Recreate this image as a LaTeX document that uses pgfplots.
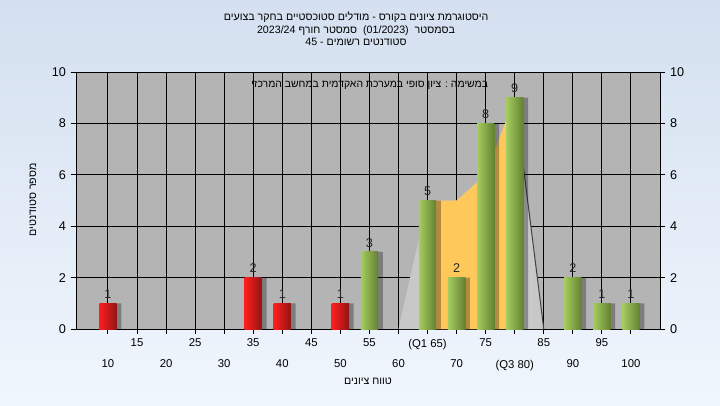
\documentclass[border=0pt]{standalone}
\usepackage{pgfplots}
\pgfplotsset{compat=1.18}
\usepackage{fontspec}
\setmainfont{Liberation Sans}
\newfontfamily\heb[Script=Hebrew]{Liberation Sans}
\TeXXeTstate=1
\definecolor{bgtop}{RGB}{212,224,240}
\definecolor{bgbot}{RGB}{240,246,253}
\definecolor{plotbg}{RGB}{180,180,180}
\definecolor{areagray}{RGB}{200,200,200}
\definecolor{areayel}{RGB}{255,200,90}
\definecolor{gL}{RGB}{165,205,95}
\definecolor{gM}{RGB}{205,232,148}
\definecolor{gR}{RGB}{100,128,50}
\definecolor{rL}{RGB}{255,30,30}
\definecolor{rM}{RGB}{255,115,115}
\definecolor{rR}{RGB}{145,20,20}

\pgfplotsset{
  lbl/.style={nodes near coords, nodes near coords style={font=\fontsize{9.5}{10}\selectfont, text=black!85, anchor=south, yshift=0pt}},
  redbar/.style={ybar, bar width=13pt, bar shift=0pt, draw=none, left color=rL, middle color=rM, right color=rR, lbl},
  greenbar/.style={ybar, bar width=13pt, bar shift=0pt, draw=none, left color=gL, middle color=gM, right color=gR, lbl},
}

\begin{document}
\begin{tikzpicture}
\shade[top color=bgtop, bottom color=bgbot] (0,0) rectangle (540pt,303.75pt);
\begin{axis}[
  at={(57pt,57pt)}, anchor=south west,
  scale only axis, width=438pt, height=192.75pt,
  xmin=-1.1, xmax=19, ymin=0, ymax=10,
  axis background/.style={fill=plotbg},
  axis line style={black, line width=0.75pt},
  ytick={0,2,...,10},
  ytick pos=left, xtick pos=bottom,
  tick align=outside, major tick length=4pt,
  tick style={black, line width=0.75pt},
  xtick={1,3,...,17},
  xticklabels={15,25,35,45,55,(Q1 65),75,85,95},
  extra x ticks={0,2,...,18},
  extra x tick labels={10,20,30,40,50,60,70,(Q3 80),90,100},
  extra x tick style={xmajorgrids=true, x tick label style={yshift=-15.75pt}},
  xmajorgrids=true, ymajorgrids=true,
  major grid style={black, line width=0.75pt},
  x tick label style={font=\fontsize{8.5}{9}\selectfont, text=black},
  y tick label style={font=\fontsize{9.5}{10}\selectfont, text=black},
  /pgf/number format/assume math mode=true,
  clip=true,
]
% areas (index 10 = grade 60, 11 = 65 (Q1), 14 = 80 (Q3), 15 = 85)
\addplot[fill=areagray, draw=none] coordinates {(10,0)(11,5)(12,5)(13,6)(14,9)(15,0)} \closedcycle;
\addplot[fill=areayel, draw=none] coordinates {(11,5)(12,5)(13,6)(14,9)} \closedcycle;
\addplot[draw=black!75, line width=0.75pt] coordinates {(14,9)(15,0)};
% shadows
\addplot[ybar, bar width=13pt, bar shift=3.5pt, fill=black, fill opacity=0.3, draw=none]
  coordinates {(0,1)(5,2)(6,1)(8,1)(9,3)(11,5)(12,2)(13,8)(14,9)(16,2)(17,1)(18,1)};
% bars: grade index, count
\addplot[redbar] coordinates {(0,1)};
\addplot[redbar] coordinates {(5,2)};
\addplot[redbar] coordinates {(6,1)};
\addplot[redbar] coordinates {(8,1)};
\addplot[greenbar] coordinates {(9,3)};
\addplot[greenbar] coordinates {(11,5)};
\addplot[greenbar] coordinates {(12,2)};
\addplot[greenbar] coordinates {(13,8)};
\addplot[greenbar] coordinates {(14,9)};
\addplot[greenbar] coordinates {(16,2)};
\addplot[greenbar] coordinates {(17,1)};
\addplot[greenbar] coordinates {(18,1)};
\node[font=\heb\fontsize{7.8}{9}\selectfont, text=black] at (rel axis cs:0.503,0.949) {\beginR במשימה : ציון סופי במערכת האקדמית במחשב המרכזי\endR};
\end{axis}
\begin{axis}[
  at={(57pt,57pt)}, anchor=south west,
  scale only axis, width=438pt, height=192.75pt,
  xmin=-1.1, xmax=19, ymin=0, ymax=10,
  axis x line=none, axis y line*=right,
  axis line style={black, line width=0.75pt},
  ytick={0,2,...,10},
  tick align=outside, major tick length=4pt,
  tick style={black, line width=0.75pt},
  y tick label style={font=\fontsize{9.5}{10}\selectfont, text=black},
  /pgf/number format/assume math mode=true,
]
\addplot[draw=none] coordinates {(0,0)};
\end{axis}
\node[align=center, font=\heb\fontsize{8}{9.4}\selectfont, text=black] at (267pt,282pt)
  {\beginR היסטוגרמת ציונים בקורס - מודלים סטוכסטיים בחקר בצועים\endR\\
   \beginR בסמסטר\ \ \beginL (01/2023)\endL{}\ \ סמסטר חורף \beginL 2023/24\endL{}\endR\\
   \beginR סטודנטים רשומים - \beginL 45\endL{}\endR};
\node[rotate=90, font=\heb\fontsize{8}{9}\selectfont, text=black] at (24.75pt,153.75pt) {\beginR מספר סטודנטים\endR};
\node[font=\heb\fontsize{8}{9}\selectfont, text=black] at (276pt,18pt) {\beginR טווח ציונים\endR};
\pgfresetboundingbox
\path (0,0) rectangle (540pt,303.75pt);
\end{tikzpicture}
\end{document}
